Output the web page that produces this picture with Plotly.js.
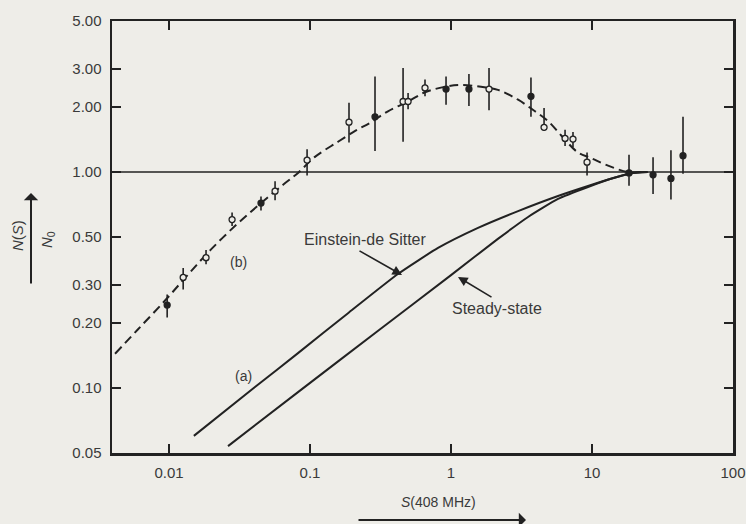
<!DOCTYPE html>
<html>
<head>
<meta charset="utf-8">
<script src="https://cdn.plot.ly/plotly-3.0.1.min.js"></script>
<style>html,body{margin:0;padding:0;background:#eeede8;}#chart{width:746px;height:524px;}</style>
</head>
<body>
<div id="chart"></div>
<script>
// ---- Data ----
// Observed source counts, normalised (curve b)
const obsS = [0.0097, 0.0126, 0.0183, 0.0280, 0.0449, 0.0565, 0.0953, 0.189, 0.289, 0.457, 0.496, 0.654, 0.922, 1.34, 1.86, 3.69, 4.57, 6.44, 7.33, 9.22, 18.3, 27.1, 36.3, 44.2];
const obsN = [0.242, 0.325, 0.401, 0.602, 0.718, 0.815, 1.135, 1.70, 1.80, 2.12, 2.12, 2.45, 2.42, 2.42, 2.42, 2.24, 1.61, 1.43, 1.42, 1.11, 0.99, 0.97, 0.934, 1.19];
const obsHigh = [0.271, 0.359, 0.435, 0.650, 0.769, 0.907, 1.274, 2.09, 2.77, 3.03, 2.32, 2.68, 2.77, 2.84, 3.03, 2.74, 1.98, 1.57, 1.53, 1.23, 1.20, 1.17, 1.26, 1.80];
const obsLow = [0.212, 0.286, 0.374, 0.562, 0.664, 0.739, 0.962, 1.37, 1.25, 1.38, 1.95, 2.24, 2.05, 2.02, 1.93, 1.80, 1.55, 1.32, 1.30, 0.962, 0.864, 0.791, 0.746, 0.98];
const obsFilled = [1,0,0,0,1,0,0,0,1,0,0,0,1,1,0,1,0,0,0,0,1,1,1,1];

// Fitted curve (b), dashed
const curveBS = [0.00414, 0.00603, 0.00937, 0.01364, 0.01986, 0.0308, 0.0449, 0.0644, 0.0822, 0.1084, 0.158, 0.209, 0.271, 0.357, 0.496, 0.654, 0.906, 1.18, 1.63, 2.15, 2.99, 3.94, 4.88, 6.03, 7.96, 9.84, 13.0, 18.0, 23.0];
const curveBN = [0.144, 0.187, 0.254, 0.335, 0.438, 0.579, 0.718, 0.873, 0.99, 1.175, 1.38, 1.55, 1.70, 1.91, 2.12, 2.34, 2.48, 2.53, 2.48, 2.40, 2.16, 1.91, 1.72, 1.48, 1.23, 1.16, 1.07, 1.0, 1.0];

// Model curves (a)
const edsS = [0.0150, 0.0407, 0.0822, 0.186, 0.420, 0.809, 1.554, 2.99, 5.74, 9.37, 14.2, 19.5, 24.8];
const edsN = [0.060, 0.101, 0.145, 0.222, 0.337, 0.445, 0.551, 0.659, 0.774, 0.861, 0.937, 0.989, 1.0];
const ssS = [0.0262, 0.0822, 0.304, 1.0, 2.15, 3.52, 5.74, 9.37, 14.2, 19.5, 24.8];
const ssN = [0.0538, 0.0957, 0.184, 0.333, 0.490, 0.619, 0.750, 0.852, 0.937, 0.989, 1.0];

// Reference line N(S)/N0 = 1
const refS = [0.00394, 100];
const refN = [1, 1];

// Tick labels
const xTickVals = [0.01, 0.1, 1, 10, 100];
const xTickText = ['0.01', '0.1', '1', '10', '100'];
const yTickVals = [0.05, 0.1, 0.2, 0.3, 0.5, 1, 2, 3, 5];
const yTickText = ['0.05', '0.10', '0.20', '0.30', '0.50', '1.00', '2.00', '3.00', '5.00'];

// ---- Drawing ----
const ink = '#222';
const txt = '#3a3a3a';
const bg = '#eeede8';
const font = 'Liberation Sans, Arial, sans-serif';

const traces = [
  {x: refS, y: refN, mode: 'lines', line: {color: ink, width: 1.6}, hoverinfo: 'skip'},
  {x: curveBS, y: curveBN, mode: 'lines', line: {color: ink, width: 2, dash: '9px,5px', shape: 'spline'}},
  {x: edsS, y: edsN, mode: 'lines', line: {color: ink, width: 2, shape: 'spline', smoothing: 0.5}},
  {x: ssS, y: ssN, mode: 'lines', line: {color: ink, width: 2, shape: 'spline', smoothing: 0.5}},
  {
    x: obsS, y: obsN, mode: 'markers',
    marker: {symbol: 'circle', size: 6, color: obsFilled.map(f => f ? ink : bg), line: {color: ink, width: 1.3}},
    error_y: {type: 'data', symmetric: false,
      array: obsHigh.map((h, i) => h - obsN[i]),
      arrayminus: obsLow.map((l, i) => obsN[i] - l),
      color: ink, thickness: 1.6, width: 0}
  }
];

const L = 112, R = 733, T = 21, B = 453;
const px = v => (v - L) / (R - L);
const py = v => (B - v) / (B - T);

function label(x, y, text, size, extra) {
  return Object.assign({xref: 'paper', yref: 'paper', x: px(x), y: py(y), text: text, showarrow: false,
    xanchor: 'center', yanchor: 'middle', font: {size: size, color: txt, family: font}}, extra || {});
}
function arrow(hx, hy, ax, ay, head, w) {
  return {xref: 'paper', yref: 'paper', x: px(hx), y: py(hy), text: '', showarrow: true, ax: ax, ay: ay,
    arrowhead: head, arrowsize: 1.2, arrowwidth: w, arrowcolor: ink};
}

const annotations = [
  label(238, 262, '(b)', 14),
  label(243, 376, '(a)', 14),
  label(365, 239, 'Einstein-de Sitter', 16),
  arrow(402, 275, -44, -25, 2, 1.6),
  label(497, 308, 'Steady-state', 16),
  arrow(458, 277, 35, 21, 2, 1.6),
  label(438, 502, '<i>S</i>(408 MHz)', 14),
  arrow(526, 520, -169, 0, 1, 2),
  label(17, 235, '<i>N</i>(<i>S</i>)', 15, {textangle: -90}),
  label(47, 240, '<i>N</i><sub>0</sub>', 15, {textangle: -90}),
  arrow(31, 193, 0, 92, 1, 2)
];

const layout = {
  width: 746, height: 524,
  margin: {l: L, r: 746 - R, t: T, b: 524 - B},
  paper_bgcolor: bg, plot_bgcolor: bg,
  showlegend: false,
  font: {family: font, size: 15, color: txt},
  xaxis: {
    type: 'log', range: [Math.log10(0.00394), 2],
    tickvals: xTickVals, ticktext: xTickText,
    ticks: 'inside', ticklen: 9, tickwidth: 2, tickcolor: ink,
    showline: true, linewidth: 2.5, linecolor: ink, mirror: 'ticks',
    showgrid: false, zeroline: false,
    ticklabelstandoff: 4,
    tickfont: {size: 15, color: txt}
  },
  yaxis: {
    type: 'log', range: [Math.log10(0.05), Math.log10(5)],
    tickvals: yTickVals, ticktext: yTickText,
    ticks: 'inside', ticklen: 9, tickwidth: 2, tickcolor: ink,
    showline: true, linewidth: 2.5, linecolor: ink, mirror: 'ticks',
    showgrid: false, zeroline: false,
    ticklabelstandoff: 5,
    tickfont: {size: 15, color: txt}
  },
  annotations: annotations
};

Plotly.newPlot('chart', traces, layout, {staticPlot: true, displayModeBar: false});
</script>
</body>
</html>
